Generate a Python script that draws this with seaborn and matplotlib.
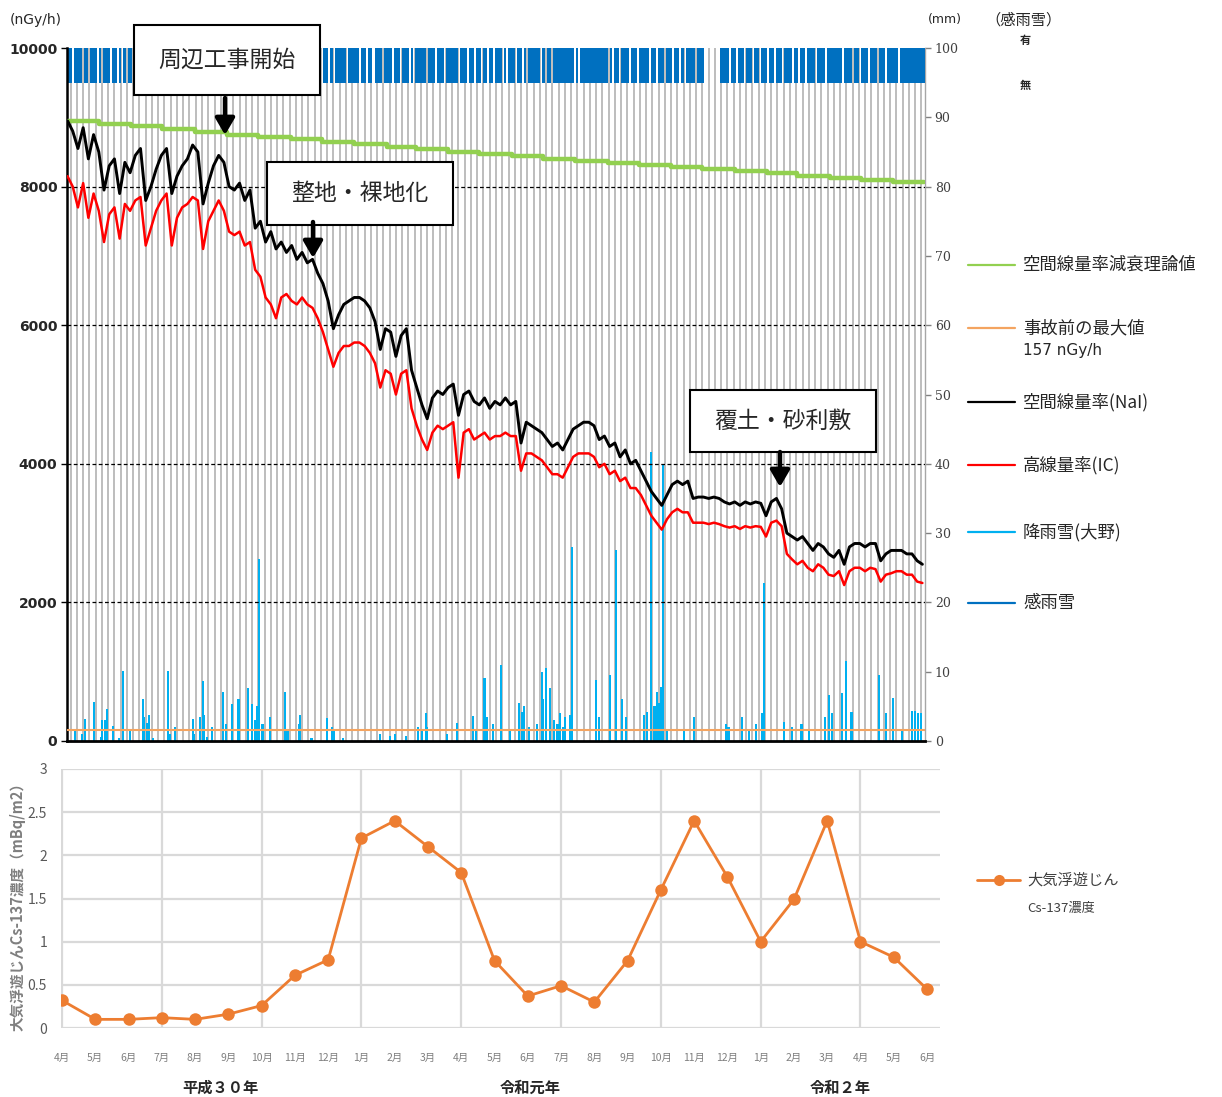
import numpy as np
import pandas as pd
import matplotlib
matplotlib.use('Agg')
import matplotlib.pyplot as plt
import seaborn as sns
from matplotlib.patches import Rectangle, FancyArrowPatch
from matplotlib.lines import Line2D

sns.set_theme(style='white')
plt.rcParams['font.family'] = ['Noto Sans CJK JP', 'DejaVu Sans']

# ---------------- data ----------------
# air dose rate, every 5 days from 2018-04-01 (nGy/h)
nai_rate = [8950, 8800, 8550, 8850, 8400, 8750, 8500, 7950, 8300, 8400,
            7900, 8350, 8200, 8450, 8550, 7800, 8000, 8250, 8450, 8550,
            7900, 8150, 8300, 8400, 8600, 8500, 7750, 8050, 8300, 8450,
            8350, 8000, 7950, 8050, 7800, 7950, 7400, 7500, 7200, 7350,
            7100, 7200, 7050, 7150, 6950, 7050, 6900, 6950, 6750, 6600,
            6350, 5950, 6150, 6300, 6350, 6400, 6400, 6350, 6250, 6050,
            5650, 5950, 5900, 5550, 5850, 5950, 5350, 5100, 4850, 4650,
            4950, 5050, 5000, 5100, 5150, 4700, 5000, 5050, 4900, 4850,
            4950, 4800, 4900, 4850, 4950, 4850, 4900, 4300, 4600, 4550,
            4500, 4450, 4350, 4250, 4300, 4200, 4350, 4500, 4550, 4600,
            4600, 4550, 4350, 4400, 4250, 4300, 4100, 4200, 4000, 4050,
            3900, 3750, 3600, 3500, 3400, 3550, 3700, 3750, 3700, 3750,
            3500, 3520, 3520, 3500, 3520, 3500, 3450, 3420, 3450, 3400,
            3450, 3420, 3450, 3430, 3250, 3450, 3500, 3350, 3000, 2950,
            2900, 2950, 2850, 2750, 2850, 2800, 2700, 2650, 2750, 2550,
            2800, 2850, 2850, 2800, 2850, 2850, 2600, 2700, 2750, 2750,
            2750, 2700, 2700, 2600, 2550]
ic_rate = [8150, 8000, 7700, 8050, 7550, 7900, 7650, 7200, 7600, 7700,
           7250, 7750, 7650, 7800, 7850, 7150, 7400, 7650, 7800, 7900,
           7150, 7550, 7700, 7750, 7850, 7800, 7100, 7500, 7650, 7800,
           7650, 7350, 7300, 7350, 7150, 7200, 6800, 6700, 6400, 6300,
           6100, 6400, 6450, 6350, 6300, 6400, 6300, 6250, 6100, 5900,
           5650, 5400, 5600, 5700, 5700, 5750, 5750, 5700, 5600, 5450,
           5100, 5350, 5300, 5000, 5300, 5350, 4800, 4550, 4350, 4200,
           4450, 4550, 4500, 4550, 4600, 3800, 4450, 4500, 4350, 4400,
           4450, 4350, 4400, 4400, 4450, 4400, 4400, 3900, 4150, 4150,
           4100, 4050, 3950, 3850, 3850, 3800, 3950, 4100, 4150, 4150,
           4150, 4100, 3950, 4000, 3850, 3900, 3750, 3800, 3650, 3650,
           3550, 3400, 3250, 3150, 3050, 3200, 3300, 3350, 3300, 3300,
           3150, 3150, 3150, 3130, 3150, 3130, 3100, 3080, 3100, 3060,
           3100, 3080, 3100, 3090, 2950, 3150, 3180, 3100, 2700, 2620,
           2550, 2600, 2500, 2450, 2550, 2500, 2400, 2380, 2450, 2250,
           2450, 2500, 2500, 2450, 2500, 2480, 2300, 2400, 2420, 2450,
           2450, 2400, 2400, 2300, 2280]
sample_step_days = 5

# theoretical decay (monthly values, nGy/h)
decay_theory = [8950, 8910, 8870, 8830, 8790, 8750, 8710, 8680, 8640, 8610,
                8570, 8540, 8500, 8470, 8440, 8400, 8370, 8340, 8310, 8280,
                8250, 8220, 8190, 8160, 8130, 8100, 8070]
pre_accident_max = 157

# precipitation (Ohno), day offset from 2018-04-01 and mm
precip_day = [7, 14, 17, 25, 32, 33, 36, 38, 44, 49,
              53, 60, 72, 73, 76, 78, 82, 96, 98, 103,
              120, 121, 127, 130, 131, 134, 139, 149, 152, 158,
              164, 173, 177, 180, 182, 184, 187, 194, 209, 211,
              222, 223, 234, 249, 254, 256, 264, 300, 309, 314,
              325, 336, 340, 344, 345, 364, 374, 389, 392, 400,
              402, 408, 416, 424, 433, 436, 438, 443, 450, 455,
              456, 459, 463, 467, 470, 472, 475, 477, 482, 484,
              507, 510, 520, 526, 532, 536, 553, 556, 560, 563,
              565, 567, 569, 571, 575, 591, 601, 632, 634, 647,
              654, 660, 666, 668, 687, 695, 704, 711, 727, 730,
              733, 743, 747, 752, 778, 785, 792, 800, 810, 813,
              816, 819]
precip_mm = [1.6, 1.0, 3.2, 5.6, 0.6, 3.0, 3.0, 4.6, 2.1, 0.5,
             10.1, 1.5, 6.1, 3.5, 2.6, 3.8, 0.5, 10.1, 1.0, 2.0,
             3.2, 1.0, 3.5, 8.7, 3.8, 0.6, 2.0, 7.1, 2.5, 5.4,
             6.0, 7.6, 5.4, 3.0, 5.0, 26.2, 2.5, 3.5, 7.1, 1.5,
             2.5, 3.8, 0.5, 3.3, 2.0, 1.5, 0.5, 1.0, 0.7, 1.0,
             0.7, 2.0, 1.5, 4.0, 2.0, 1.0, 2.6, 3.6, 1.8, 9.1,
             3.5, 2.5, 11.0, 1.5, 5.5, 4.2, 5.0, 2.0, 2.5, 10.0,
             6.0, 10.5, 7.6, 3.0, 2.5, 4.0, 2.0, 3.5, 3.8, 28.0,
             8.8, 3.5, 9.5, 27.5, 6.0, 3.5, 3.8, 4.2, 41.7, 5.0,
             7.0, 5.5, 7.8, 40.0, 1.5, 1.5, 3.5, 2.5, 2.0, 3.5,
             1.5, 2.5, 4.0, 22.8, 2.8, 2.0, 2.5, 1.8, 3.5, 6.6,
             4.0, 6.9, 11.6, 4.2, 9.5, 4.0, 6.2, 1.5, 4.4, 4.4,
             4.0, 4.0]

# rain-sensing: spans (day offsets) with NO rain sensed
kan_dry_spans = [(5, 6), (14, 15), (20, 21), (29, 30), (33, 34), (41, 42), (48, 49),
                 (52, 53), (57, 58), (62, 63), (70, 71), (77, 78), (85, 86), (92, 93),
                 (99, 100), (106, 107), (113, 114), (121, 122), (128, 129), (135, 136),
                 (143, 144), (150, 151), (157, 158), (164, 165), (171, 172), (178, 179),
                 (186, 187), (193, 194), (200, 201), (207, 208), (214, 215), (221, 222),
                 (229, 230), (236, 237), (244, 245), (250, 251), (255, 256), (268, 269),
                 (280, 281), (287, 288), (293, 294), (302, 303), (312, 313), (319, 320),
                 (328, 329), (332, 333), (344, 345), (353, 354), (362, 363), (375, 376),
                 (384, 385), (390, 391), (397, 398), (403, 404), (409, 410), (417, 418),
                 (421, 422), (430, 431), (436, 437), (440, 441), (454, 455), (458, 459),
                 (464, 465), (486, 487), (490, 491), (519, 520), (523, 524), (529, 530),
                 (539, 540), (547, 548), (558, 559), (565, 566), (573, 574), (580, 581),
                 (587, 588), (592, 593), (602, 603), (611, 625), (635, 636), (642, 643),
                 (649, 650), (657, 658), (664, 665), (671, 672), (678, 679), (686, 687),
                 (695, 696), (701, 702), (708, 709), (717, 718), (727, 728), (743, 744),
                 (753, 754), (760, 761), (768, 769), (777, 778), (785, 786), (797, 798)]

# airborne dust Cs-137 (mBq/m3), monthly Apr 2018 - Jun 2020
cs_months = ['4月', '5月', '6月', '7月', '8月', '9月', '10月', '11月', '12月',
             '1月', '2月', '3月', '4月', '5月', '6月', '7月', '8月', '9月',
             '10月', '11月', '12月', '1月', '2月', '3月', '4月', '5月', '6月']
cs_values = [0.32, 0.10, 0.10, 0.12, 0.10, 0.16, 0.26, 0.61, 0.79,
             2.20, 2.40, 2.10, 1.80, 0.78, 0.37, 0.49, 0.30, 0.78,
             1.60, 2.40, 1.75, 1.00, 1.49, 2.40, 1.00, 0.82, 0.45]
year_labels = ['平成３０年', '令和元年', '令和２年']

# ---------------- figure ----------------
W, H = 1222, 1097
fig = plt.figure(figsize=(W / 100, H / 100), dpi=100)


def fx(px):
    return px / W


def fy(py):
    return 1 - py / H


start = pd.Timestamp('2018-04-01')
end_day = (pd.Timestamp('2020-07-01') - start).days
all_days = np.arange(0, end_day + 1)

ax = fig.add_axes([fx(67), fy(741), fx(925) - fx(67), fy(48) - fy(741)])
ax2 = ax.twinx()
ax.set_zorder(2)
ax2.set_zorder(1)
ax.patch.set_visible(False)
ax2.patch.set_visible(True)
ax2.patch.set_facecolor('white')

ax.set_xlim(-0.5, end_day + 0.5)
ax.set_ylim(0, 10000)
ax2.set_ylim(0, 100)

# background stripes
stripe_days = np.arange(3, end_day, 6)
ax2.vlines(stripe_days, 0, 100, color='#BDBDBD', lw=1.4, zorder=0.5)

# rain sensing band (95-100 mm)
rain_flag = np.ones_like(all_days)
for s, e in kan_dry_spans:
    rain_flag[(all_days >= s) & (all_days <= e)] = 0
ax2.bar(all_days[rain_flag == 1], 5, bottom=95, width=1.05, color='#0070C0',
        linewidth=0, zorder=3)

# precipitation bars
ax2.bar(precip_day, precip_mm, width=2.0, color='#00B0F0', linewidth=0, zorder=3)

# dashed horizontal grid
yt = np.arange(0, 10001, 2000)
ax.hlines(yt[1:-1], -0.5, end_day + 0.5, colors='black', linestyles=(0, (3, 2)), lw=0.9, zorder=1)

# series
sample_days = np.arange(len(nai_rate)) * sample_step_days
month_starts = [(d - start).days for d in pd.date_range(start, periods=len(decay_theory), freq='MS')]
decay_x = month_starts + [end_day]
decay_y = decay_theory + [decay_theory[-1]]
sns.lineplot(x=decay_x, y=decay_y, ax=ax, color='#92D050', lw=3.2, drawstyle='steps-post', zorder=4)
ax.axhline(pre_accident_max, color='#F4A460', lw=1.5, zorder=4)
sns.lineplot(x=sample_days, y=ic_rate, ax=ax, color='#FF0000', lw=1.8, zorder=5)
sns.lineplot(x=sample_days, y=nai_rate, ax=ax, color='black', lw=2.1, zorder=6)

# axes styling
ax.set_yticks(yt)
ax.set_yticklabels([str(v) for v in yt], fontsize=10, fontweight='bold', family='DejaVu Sans')
ax.tick_params(axis='y', left=True, length=4, width=1, color='black', pad=3)
ax.set_xticks([])
ax2.set_xticks([])
ax2.set_yticks(np.arange(0, 101, 10))
ax2.set_yticklabels([str(v) for v in range(0, 101, 10)], fontsize=9, color='#404040', family='DejaVu Serif')
ax2.tick_params(axis='y', right=True, length=4, width=1, color='#808080', pad=3)
ax.set_xlabel('')
ax.set_ylabel('')
ax2.set_ylabel('')
for s in ['top', 'right']:
    ax.spines[s].set_visible(False)
ax.spines['left'].set_color('black')
ax.spines['left'].set_linewidth(1.8)
ax.spines['bottom'].set_color('black')
ax.spines['bottom'].set_linewidth(2.0)
for s in ['top', 'left', 'bottom']:
    ax2.spines[s].set_visible(False)
ax2.spines['right'].set_color('#A6A6A6')
ax2.spines['right'].set_linewidth(1.0)

# units
fig.text(fx(10), fy(20), '(nGy/h)', fontsize=10, ha='left', va='center', family='DejaVu Sans')
fig.text(fx(928), fy(20), '(mm)', fontsize=9, ha='left', va='center', family='DejaVu Sans')
fig.text(fx(985), fy(20), '（感雨雪）', fontsize=11, ha='left', va='center')
fig.text(fx(1025), fy(40), '有', fontsize=8, fontweight='bold', ha='center', va='center')
fig.text(fx(1025), fy(86), '無', fontsize=8, fontweight='bold', ha='center', va='center')

# annotation boxes + arrows
boxes = [((134, 25, 320, 95), '周辺工事開始', (225, 98, 135)),
         ((267, 162, 453, 225), '整地・裸地化', (313, 222, 258)),
         ((690, 390, 876, 452), '覆土・砂利敷', (780, 452, 487))]
for (x0, y0, x1, y1), label, (axp, ay0, ay1) in boxes:
    fig.add_artist(Rectangle((fx(x0), fy(y1)), fx(x1) - fx(x0), fy(y0) - fy(y1),
                             transform=fig.transFigure, facecolor='white',
                             edgecolor='black', lw=1.5, zorder=10))
    fig.text(fx((x0 + x1) / 2), fy((y0 + y1) / 2), label, fontsize=16.5,
             ha='center', va='center', zorder=11)
    fig.add_artist(FancyArrowPatch((fx(axp), fy(ay0)), (fx(axp), fy(ay1)),
                                   transform=fig.transFigure,
                                   arrowstyle='-|>,head_width=0.32,head_length=0.55',
                                   mutation_scale=18, lw=3.2, color='black',
                                   shrinkA=0, shrinkB=0, zorder=12))

# legend for top chart
leg_items = [(265, '#92D050', '空間線量率減衰理論値'),
             (328, '#F4A460', '事故前の最大値'),
             (402, 'black', '空間線量率(NaI)'),
             (465, '#FF0000', '高線量率(IC)'),
             (532, '#00B0F0', '降雨雪(大野)'),
             (603, '#0070C0', '感雨雪')]
for ly, col, txt in leg_items:
    fig.add_artist(Line2D([fx(968), fx(1015)], [fy(ly), fy(ly)], transform=fig.transFigure,
                          color=col, lw=1.6))
    fig.text(fx(1023), fy(ly), txt, fontsize=12.5, ha='left', va='center')
fig.text(fx(1023), fy(350), '157 nGy/h', fontsize=11, ha='left', va='center', family='DejaVu Sans')

# ---------------- bottom chart ----------------
axb = fig.add_axes([fx(61), fy(1028), fx(940) - fx(61), fy(769) - fy(1028)])
month_idx = np.arange(len(cs_values))
axb.set_xlim(-0.03, len(cs_values) - 1 + 0.39)
axb.set_ylim(0, 3)
axb.set_yticks(np.arange(0, 3.01, 0.5))
axb.set_yticklabels(['0', '0.5', '1', '1.5', '2', '2.5', '3'], fontsize=10, color='#595959')
axb.yaxis.grid(True, color='#D9D9D9', lw=1.6)
axb.xaxis.grid(False)
axb.vlines(month_idx[::3], 0, 3, colors='#D9D9D9', lw=1.6, zorder=0)
sns.lineplot(x=month_idx, y=cs_values, ax=axb, color='#ED7D31', lw=2, marker='o',
             markersize=9, markeredgewidth=0, zorder=3)
axb.set_xticks(month_idx)
axb.set_xticklabels(cs_months, fontsize=7.5, color='#7F7F7F')
axb.tick_params(axis='x', length=0, pad=18)
axb.tick_params(axis='y', length=0, pad=10)
axb.set_xlabel('')
axb.set_ylabel('')
for s in axb.spines.values():
    s.set_visible(False)

for xp, lab in zip([220, 530, 840], year_labels):
    fig.text(fx(xp), fy(1088), lab, fontsize=11, fontweight='bold', ha='center', va='center',
             color='#262626')

fig.text(fx(18), fy(903), '大気浮遊じんCs-137濃度（mBq/m2）', rotation=90, fontsize=10.5,
         fontweight='bold', color='#7F7F7F', ha='center', va='center')

fig.add_artist(Line2D([fx(977), fx(1020)], [fy(880), fy(880)], transform=fig.transFigure,
                      color='#ED7D31', lw=2))
fig.add_artist(Line2D([fx(998.5)], [fy(880)], transform=fig.transFigure,
                      color='#ED7D31', marker='o', markersize=8, markeredgewidth=0, lw=0))
fig.text(fx(1027), fy(880), '大気浮遊じん', fontsize=11, ha='left', va='center', color='#404040')
fig.text(fx(1027), fy(908), 'Cs-137濃度', fontsize=9.5, ha='left', va='center', color='#404040')

fig.savefig('out.png', dpi=100, facecolor='white')
